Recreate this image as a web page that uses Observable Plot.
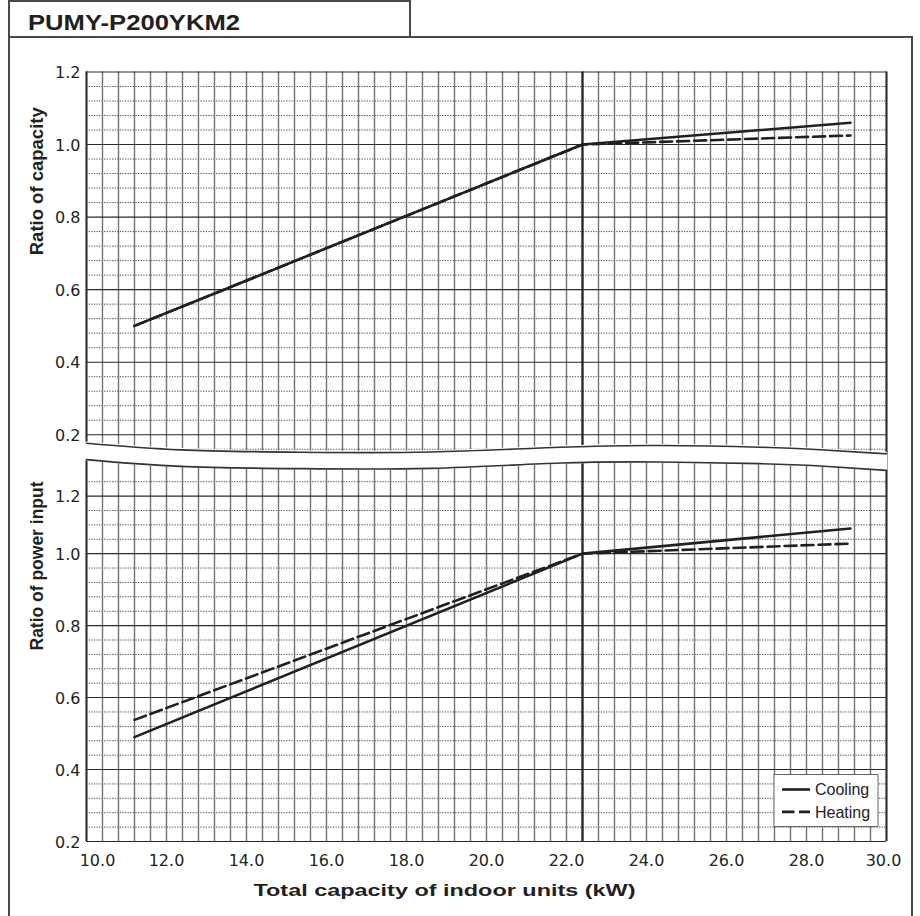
<!DOCTYPE html>
<html>
<head>
<meta charset="utf-8">
<script src="https://cdn.jsdelivr.net/npm/d3@7"></script>
<script src="https://cdn.jsdelivr.net/npm/@observablehq/plot@0.6"></script>
<style>
  body { margin: 0; background: #fff; }
  #chart { position: relative; width: 920px; height: 916px; overflow: hidden; background: #fff; }
  #chart > svg { position: absolute; left: 0; }
</style>
</head>
<body>
<div id="chart"></div>
<script>
// ---------- texts ----------
const chartTitle = "PUMY-P200YKM2";
const xAxisTitle = "Total capacity of indoor units (kW)";
const upperAxisTitle = "Ratio of capacity";
const lowerAxisTitle = "Ratio of power input";
const seriesNames = ["Cooling", "Heating"];

// ---------- data ----------
const ratedCapacity = 22.4;                 // heavy vertical rule
const capacityX       = [11.2, 22.4, 29.1];
const capacityCooling = [0.50, 1.00, 1.06];
const capacityHeating = [0.50, 1.00, 1.025];
const powerX          = [11.2, 22.4, 29.1];
const powerCooling    = [0.49, 1.00, 1.07];
const powerHeating    = [0.538, 1.00, 1.028];

// ---------- ticks ----------
const xTicks = [10, 12, 14, 16, 18, 20, 22, 24, 26, 28, 30];
const upperYTicks = [0.2, 0.4, 0.6, 0.8, 1.0, 1.2];
const upperYTickLabels = ["0.2", "0.4", "0.6", "0.8", "1.0", "1.2"];
// as printed, the lower panel's "1.2" rule sits one minor step low (at 1.16)
const lowerYTicks = [0.2, 0.4, 0.6, 0.8, 1.0, 1.16];
const lowerYTickLabels = ["0.2", "0.4", "0.6", "0.8", "1.0", "1.2"];

// ---------- axis-break wave (value units) ----------
const breakX      = [10, 12.35, 15.35, 18.6, 21.85, 24.35, 26.85, 28.35, 30];
const upperBreakY = [0.1766, 0.1584, 0.1518, 0.1523, 0.1655, 0.1702, 0.1655, 0.1584, 0.1473];
const lowerBreakY = [1.2613, 1.2426, 1.2362, 1.2371, 1.2518, 1.2546, 1.2501, 1.2435, 1.2315];

// ---------- helpers ----------
const rows = (xs, ys) => xs.map((x, i) => ({x, y: ys[i]}));
const ink = "#231f20";
const xGrid = d3.range(0, 51).map(i => +(10 + i * 0.4).toFixed(2));
const minorTicks = (lo, hi, majors) =>
  d3.range(Math.round((hi - lo) / 0.04) + 1)
    .map(i => +(lo + i * 0.04).toFixed(2))
    .filter(v => !majors.some(t => Math.abs(t - v) < 1e-6));

const upperYMin = 0.14, upperYMax = 1.2;
const lowerYMin = 0.2, lowerYMax = 1.27;

const common = {
  width: 920,
  marginLeft: 86,
  marginRight: 34,
  x: {domain: [10, 30], axis: null},
  style: {background: "transparent", overflow: "visible"}
};

const gridMarks = (minor, majors) => [
  Plot.ruleY(minor, {stroke: "#3a3a3a", strokeWidth: 0.9, strokeDasharray: "1.3,1.3"}),
  Plot.ruleX(xGrid, {stroke: "#737373", strokeWidth: 1.4}),
  Plot.ruleY(majors, {stroke: "#2a2a2a", strokeWidth: 1.1}),
  Plot.ruleX([10, 30], {stroke: "#2e2e2e", strokeWidth: 2}),
  Plot.ruleX([ratedCapacity], {stroke: ink, strokeWidth: 2.2})
];

const seriesMarks = (xs, cool, heat) => [
  Plot.line(rows(xs, heat), {x: "x", y: "y", stroke: ink, strokeWidth: 2.6, strokeDasharray: "12,5"}),
  Plot.line(rows(xs, cool), {x: "x", y: "y", stroke: ink, strokeWidth: 2.6})
];

const yTickText = (vals, labels) => Plot.text(vals, {
  y: d => d, frameAnchor: "left", dx: -6, dy: 1, textAnchor: "end", lineAnchor: "middle",
  text: (d, i) => labels[i], fontFamily: "DejaVu Sans", fontSize: 16, fill: ink
});

const yTitle = (label, dy) => Plot.text([label], {
  frameAnchor: "left", dx: -49, dy, rotate: -90, lineAnchor: "middle",
  text: d => d, fontFamily: "Liberation Sans, Arial, sans-serif", fontWeight: "bold",
  fontSize: 17.5, fill: ink
});

// ---------- upper panel ----------
const upper = Plot.plot({
  ...common,
  height: 419,
  marginTop: 34.5,
  marginBottom: 0,
  y: {domain: [upperYMin, upperYMax], axis: null},
  marks: [
    ...gridMarks(minorTicks(0.16, 1.2, upperYTicks), upperYTicks),
    Plot.areaY(rows(breakX, upperBreakY), {x: "x", y1: "y", y2: upperYMin, fill: "white", stroke: "white", strokeWidth: 2.5, curve: "natural"}),
    Plot.line(rows(breakX, upperBreakY), {x: "x", y: "y", stroke: "#333", strokeWidth: 1.6, curve: "natural"}),
    ...seriesMarks(capacityX, capacityCooling, capacityHeating),
    yTickText(upperYTicks, upperYTickLabels),
    yTitle(upperAxisTitle, -9)
  ]
});
upper.style.top = "37px";

// ---------- lower panel ----------
const xTickText = (vals, dx) => Plot.text(vals, {
  x: d => d, frameAnchor: "bottom", dy: 19, dx, lineAnchor: "middle",
  text: d => d.toFixed(1), fontFamily: "DejaVu Sans", fontSize: 16, fill: ink
});

const lower = Plot.plot({
  ...common,
  height: 460,
  marginTop: 0,
  marginBottom: 75,
  y: {domain: [lowerYMin, lowerYMax], axis: null},
  marks: [
    ...gridMarks(minorTicks(0.2, 1.2, lowerYTicks), lowerYTicks),
    Plot.areaY(rows(breakX, lowerBreakY), {x: "x", y1: "y", y2: lowerYMax, fill: "white", stroke: "white", strokeWidth: 2.5, curve: "natural"}),
    Plot.line(rows(breakX, lowerBreakY), {x: "x", y: "y", stroke: "#333", strokeWidth: 1.6, curve: "natural"}),
    ...seriesMarks(powerX, powerCooling, powerHeating),
    yTickText(lowerYTicks, lowerYTickLabels),
    xTickText(xTicks.slice(0, 1), 11),
    xTickText(xTicks.slice(1, -1), 0),
    xTickText(xTicks.slice(-1), -3),
    Plot.text([xAxisTitle], {
      frameAnchor: "bottom", dx: -42, dy: 49, lineAnchor: "middle", text: d => d,
      fontFamily: "Liberation Sans, Arial, sans-serif", fontWeight: "bold", fontSize: 17,
      fill: ink
    }),
    yTitle(lowerAxisTitle, 1.5)
  ]
});
lower.style.top = "456px";

// stretch titles to the printed widths
const stretch = (svg, label, len) => svg.querySelectorAll("text").forEach(t => {
  if (t.textContent.trim() === label) {
    t.setAttribute("textLength", len);
    t.setAttribute("lengthAdjust", "spacingAndGlyphs");
  }
});
stretch(upper, upperAxisTitle, 148);
stretch(lower, lowerAxisTitle, 169);
stretch(lower, xAxisTitle, 382);

const chart = document.getElementById("chart");
chart.appendChild(upper);
chart.appendChild(lower);

// ---------- frame, title tab and legend ----------
const ns = "http://www.w3.org/2000/svg";
const chrome = d3.create("svg").attr("xmlns", ns).attr("width", 920).attr("height", 916).style("top", "0px");
const frameColor = "#4a4a4a";
chrome.append("path")
  .attr("d", "M9,0 V916 M9,1 H410 V37 M9,37 H912 V916")
  .attr("fill", "none").attr("stroke", frameColor).attr("stroke-width", 2);
chrome.append("text")
  .attr("x", 28).attr("y", 29.5)
  .attr("font-family", "Liberation Sans, Arial, sans-serif").attr("font-weight", "bold")
  .attr("font-size", 22).attr("fill", ink)
  .attr("textLength", 212).attr("lengthAdjust", "spacingAndGlyphs")
  .text(chartTitle);

const lg = chrome.append("g").attr("transform", "translate(774,774.5)");
lg.append("rect").attr("width", 104).attr("height", 52).attr("fill", "white").attr("stroke", "#666").attr("stroke-width", 1);
seriesNames.forEach((name, i) => {
  const y = 15 + i * 22.4;
  lg.append("line").attr("x1", 8).attr("x2", 36).attr("y1", y).attr("y2", y)
    .attr("stroke", ink).attr("stroke-width", 2.6)
    .attr("stroke-dasharray", i === 0 ? null : "12.5,4.5");
  lg.append("text").attr("x", 41).attr("y", y + 5.8)
    .attr("font-family", "Liberation Sans, Arial, sans-serif").attr("font-size", 16)
    .attr("fill", ink).text(name);
});
chart.appendChild(chrome.node());
</script>
</body>
</html>
